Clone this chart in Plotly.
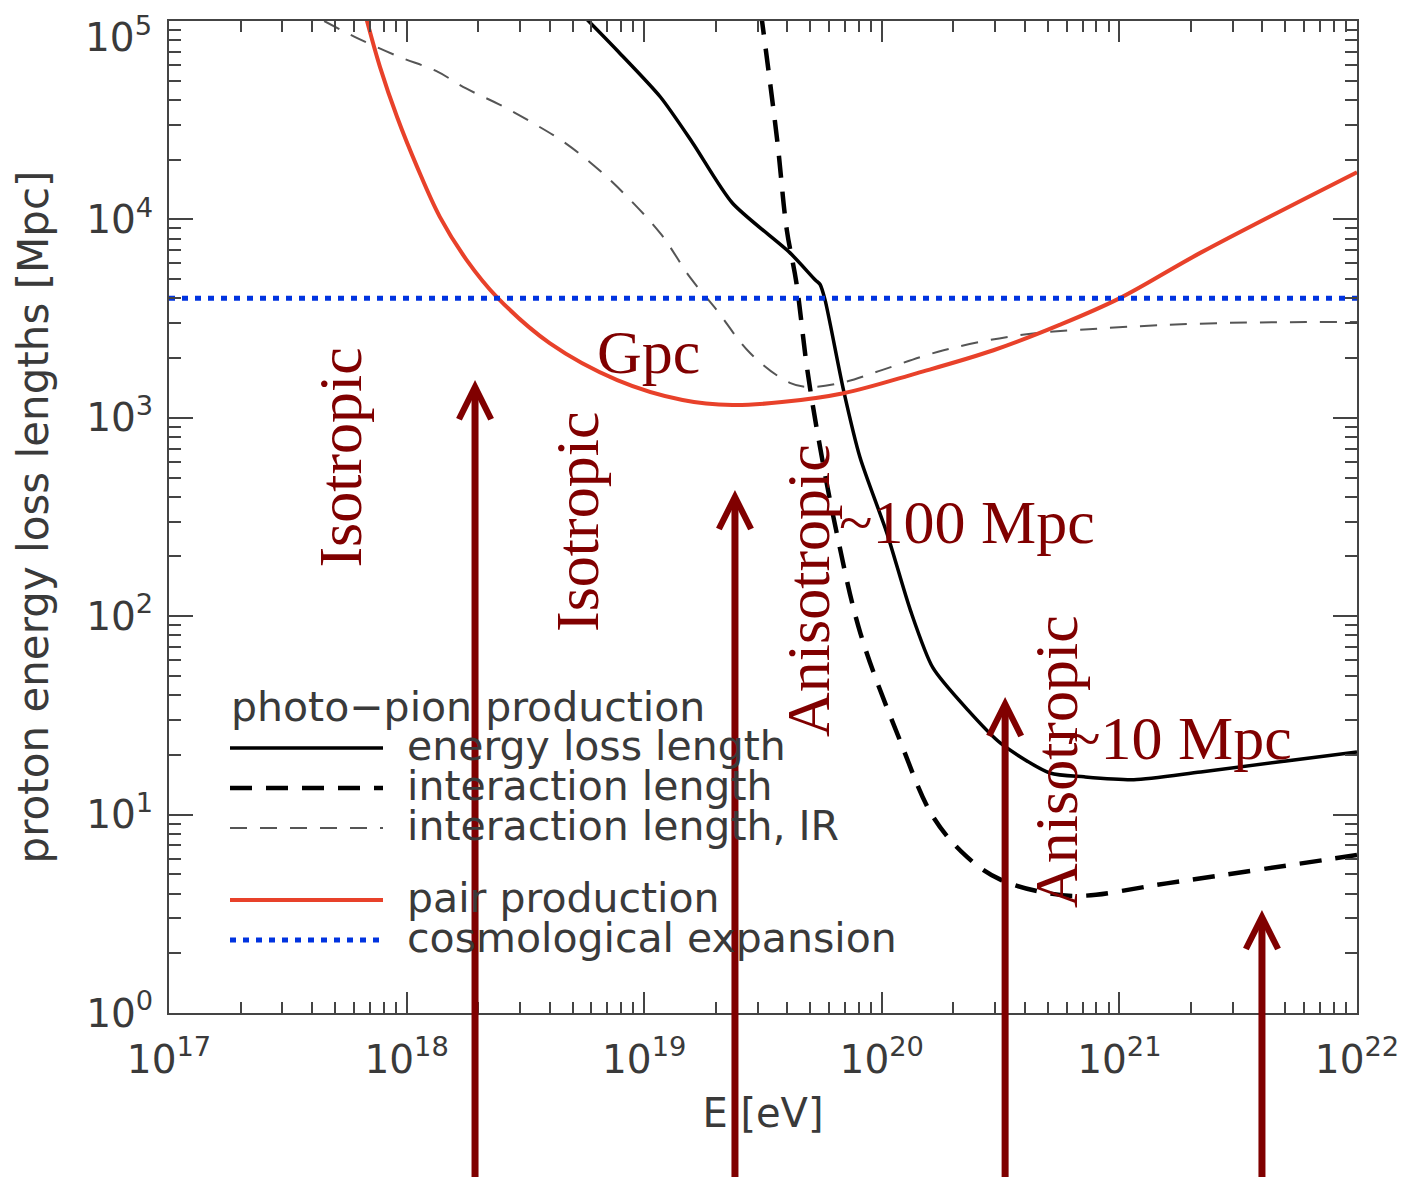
import plotly.graph_objects as go

# ---------------- data (E in eV, lengths in Mpc) ----------------
pair_E = [6.8e17, 7.73e17, 9.12e17, 1.107e18, 1.38e18, 1.79e18, 2.4e18, 4.0e18, 7.7e18,
          1.45e19, 2.35e19, 3.8e19, 6.9e19, 1.41e20, 2.95e20, 5.6e20, 1.0e21, 2.2e21, 1.0e22]
pair_L = [1.01e5, 5.86e4, 3.28e4, 1.84e4, 1.03e4, 6.24e3, 4.06e3, 2.38e3, 1.55e3,
          1.23e3, 1.16e3, 1.2e3, 1.33e3, 1.68e3, 2.19e3, 2.94e3, 4.0e3, 6.8e3, 1.73e4]

eloss_E = [5.6e18, 7.7e18, 1.17e19, 1.6e19, 2.35e19, 4.1e19, 5.25e19, 5.5e19, 5.77e19, 6.9e19,
           8.1e19, 1.05e20, 1.32e20, 1.64e20, 2.3e20, 3.16e20, 5.1e20, 7.1e20, 1.15e21,
           2.2e21, 1.0e22]
eloss_L = [1.05e5, 7.1e4, 4.14e4, 2.43e4, 1.21e4, 6.8e3, 4.95e3, 4.7e3, 3.93e3, 1.38e3,
           631, 263, 107, 55, 33.7, 22.9, 16.2, 15.5, 15.0, 16.4, 20.7]

inter_E = [3.1e19, 3.63e19, 3.98e19, 4.37e19, 4.84e19, 5.37e19, 6.46e19, 8.13e19,
           1.19e20, 1.64e20, 2.29e20, 3.16e20, 5.1e20, 7.1e20, 1.58e21, 1.0e22]
inter_L = [1.1e5, 2.5e4, 8.9e3, 4.8e3, 1.8e3, 832, 263, 82,
           23.8, 9.8, 6.1, 4.7, 4.0, 3.9, 4.5, 6.25]

ir_E = [4.5e17, 6.2e17, 9.3e17, 1.33e18, 1.78e18, 2.45e18, 3.4e18, 4.6e18, 6.1e18, 7.7e18,
        1.17e19, 1.56e19, 2.02e19, 2.79e19, 4.1e19, 5.0e19, 6.9e19, 1.0e20, 1.82e20,
        3.8e20, 8.3e20, 2.57e21, 1.0e22]
ir_L = [1.0e5, 8.2e4, 6.6e4, 5.6e4, 4.57e4, 3.8e4, 3.06e4, 2.45e4, 1.88e4, 1.46e4,
        8.5e3, 5.1e3, 3.49e3, 2.12e3, 1.5e3, 1.43e3, 1.51e3, 1.74e3, 2.19e3, 2.61e3,
        2.82e3, 3.0e3, 3.04e3]

cosmo_E = [1e17, 1e22]
cosmo_L = [4.0e3, 4.0e3]

x_tick_vals = [1e17, 1e18, 1e19, 1e20, 1e21, 1e22]
x_tick_text = ["10<sup>17</sup>", "10<sup>18</sup>", "10<sup>19</sup>",
               "10<sup>20</sup>", "10<sup>21</sup>", "10<sup>22</sup>"]
y_tick_vals = [1e0, 1e1, 1e2, 1e3, 1e4]
y_tick_text = ["10<sup>0</sup>", "10<sup>1</sup>", "10<sup>2</sup>",
               "10<sup>3</sup>", "10<sup>4</sup>"]
y_top_tick_val = 1e5
y_top_tick_text = "10<sup>5</sup>"   # drawn just below the frame top, as in the original

# text annotations (positions in log10 units)
labels_text = ["Isotropic", "Isotropic", "Gpc", "Anisotropic", "~100 Mpc", "Anisotropic", "~10 Mpc"]
labels_logE = [17.72, 18.717, 19.016, 19.689, 20.359, 20.733, 21.255]
labels_logL = [2.80, 2.475, 3.332, 2.132, 2.475, 1.27, 1.386]
labels_angle = [-90, -90, 0, -90, 0, -90, 0]

arrow_logE = [18.288, 19.382, 20.519, 21.60]
arrow_tip_logL = [3.19, 2.636, 1.593, 0.519]
arrow_tail_logL = -0.85

# legend entries
legend_title = "photo\u2212pion production"
legend_names = ["energy loss length", "interaction length", "interaction length, IR",
                "pair production", "cosmological expansion"]

TXT = "#3a3a3a"
MAROON = "#800000"
SANS = "DejaVu Sans, sans-serif"
SERIF = "Liberation Serif, Times New Roman, serif"

styles = [dict(color="black", width=3.5),
          dict(color="black", width=4.5, dash="22px,14px"),
          dict(color="#555555", width=2, dash="17px,13px"),
          dict(color="#e8412a", width=4),
          dict(color="#0033e0", width=5, dash="6px,7px")]
smooth = [0.7, 1.0, 1.0, 1.0, 0.0]
series = [(eloss_E, eloss_L), (inter_E, inter_L), (ir_E, ir_L), (pair_E, pair_L), (cosmo_E, cosmo_L)]

fig = go.Figure()
for (xs, ys), name, st, sm in zip(series, legend_names, styles, smooth):
    fig.add_trace(go.Scatter(x=xs, y=ys, mode="lines", name=name, showlegend=False,
                             line=dict(shape="spline", smoothing=sm, **st)))

annotations = []
for t, xe, yl, ang in zip(labels_text, labels_logE, labels_logL, labels_angle):
    annotations.append(dict(x=xe, y=yl, xref="x", yref="y", text=t, showarrow=False,
                            textangle=ang, xanchor="center", yanchor="middle",
                            font=dict(family=SERIF, size=62, color=MAROON)))
for xe, tip in zip(arrow_logE, arrow_tip_logL):
    annotations.append(dict(x=xe, y=tip, xref="x", yref="y", ax=xe, ay=arrow_tail_logL,
                            axref="x", ayref="y", text="", showarrow=True,
                            arrowhead=5, arrowsize=0.9, arrowwidth=7, arrowcolor=MAROON,
                            standoff=0))

# page layout: the page body has an 8 px margin
OFF = 8
FIG_W, FIG_H = 1406 - OFF, 1177 - OFF
L_PLOT, T_PLOT, W_PLOT, H_PLOT = 169, 21, 1188, 992   # page pixels of plot area
def px(x):
    return (x - L_PLOT) / W_PLOT
def py(y):
    return (T_PLOT + H_PLOT - y) / H_PLOT

# top y tick label, nudged inside the page like the original
annotations.append(dict(x=px(154), y=py(35), xref="paper", yref="paper", text=y_top_tick_text,
                        showarrow=False, xanchor="right", yanchor="middle",
                        font=dict(family=SANS, size=39, color=TXT)))

# hand-laid legend (paper coordinates), like the IDL original
row_y = [748, 788, 828, 900, 940]
shapes = []
annotations.append(dict(x=px(229), y=py(707), xref="paper", yref="paper", text=legend_title,
                        showarrow=False, xanchor="left", yanchor="middle",
                        font=dict(family=SANS, size=41, color=TXT)))
for name, st, ry in zip(legend_names, styles, row_y):
    shapes.append(dict(type="line", xref="paper", yref="paper", x0=px(230), x1=px(383),
                       y0=py(ry), y1=py(ry), line=st, layer="above"))
    annotations.append(dict(x=px(405), y=py(ry - 2), xref="paper", yref="paper", text=name,
                            showarrow=False, xanchor="left", yanchor="middle",
                            font=dict(family=SANS, size=41, color=TXT)))

minor_x = [float(m) * 10.0 ** k for k in range(17, 22) for m in range(2, 10)]
minor_y = [float(m) * 10.0 ** k for k in range(0, 5) for m in range(2, 10)]

ml = L_PLOT - OFF
mt = T_PLOT - OFF
fig.update_layout(
    width=FIG_W, height=FIG_H,
    margin=dict(l=ml, r=FIG_W - ml - W_PLOT, t=mt, b=FIG_H - mt - H_PLOT, pad=0),
    paper_bgcolor="white", plot_bgcolor="white",
    font=dict(family=SANS, color=TXT),
    annotations=annotations, shapes=shapes, showlegend=False,
)
fig.update_xaxes(type="log", range=[17, 22.00002], showgrid=False, zeroline=False, automargin=False,
                 showline=True, linecolor="#444", linewidth=2, mirror="allticks",
                 ticks="inside", ticklen=21, tickwidth=1.5, tickcolor="#444",
                 tickmode="array", tickvals=x_tick_vals, ticktext=x_tick_text,
                 tickfont=dict(family=SANS, size=39, color=TXT), ticklabelstandoff=11,
                 ticklabeloverflow="allow",
                 minor=dict(ticks="inside", ticklen=11, tickwidth=1.5, tickcolor="#444",
                            tickmode="array", tickvals=minor_x, showgrid=False),
                 title=dict(text="E [eV]", font=dict(family=SANS, size=40, color=TXT), standoff=18))
fig.update_yaxes(type="log", range=[0, 5.00002], showgrid=False, zeroline=False, automargin=False,
                 showline=True, linecolor="#444", linewidth=2, mirror="allticks",
                 ticks="inside", ticklen=24, tickwidth=1.5, tickcolor="#444",
                 tickmode="array", tickvals=y_tick_vals + [y_top_tick_val], ticktext=y_tick_text + [""],
                 tickfont=dict(family=SANS, size=39, color=TXT), ticklabelstandoff=6,
                 ticklabeloverflow="allow",
                 minor=dict(ticks="inside", ticklen=12, tickwidth=1.5, tickcolor="#444",
                            tickmode="array", tickvals=minor_y, showgrid=False),
                 title=dict(text="proton energy loss lengths [Mpc]",
                            font=dict(family=SANS, size=42, color=TXT), standoff=24))

fig.write_html("out.html")
